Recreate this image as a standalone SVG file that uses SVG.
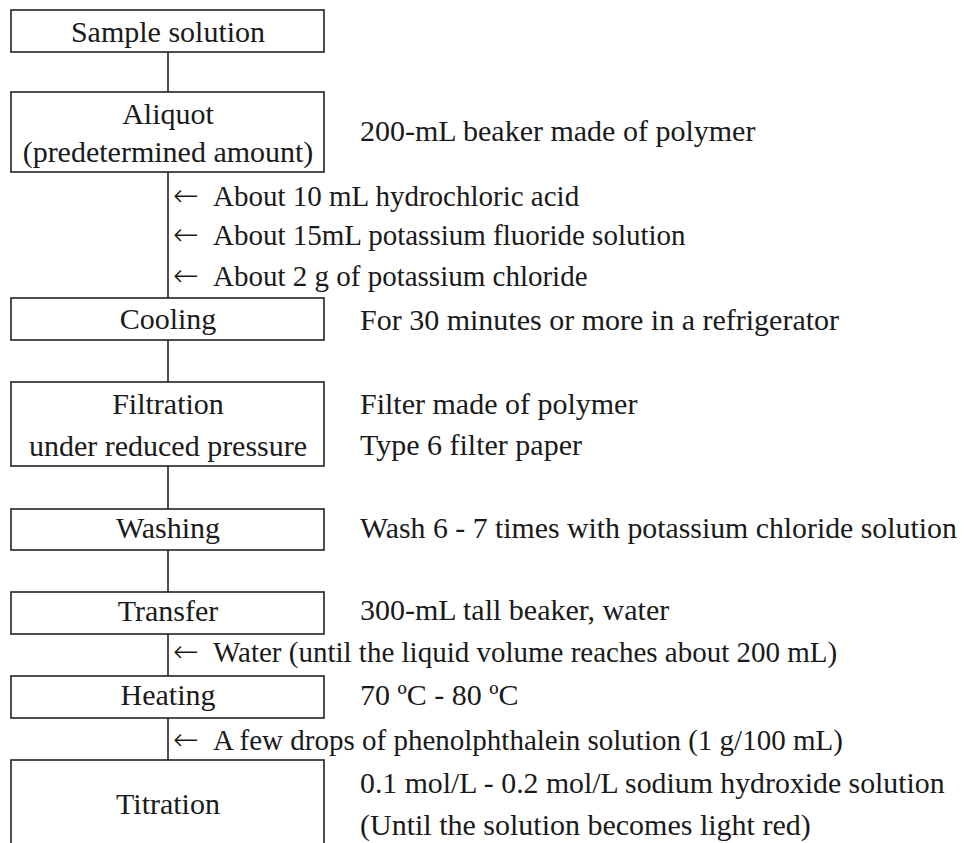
<svg xmlns="http://www.w3.org/2000/svg" width="964" height="843" viewBox="0 0 964 843">
<style>
rect.box{fill:#fff;stroke:#222;stroke-width:1.6}
line.con{stroke:#222;stroke-width:1.6}
.c{text-anchor:middle}
.ar{font-family:'DejaVu Sans',sans-serif;font-size:31px;font-weight:300}
.side{font-size:29px}
</style>
<rect width="964" height="843" fill="#fff"/>
<g id="connectors">
<line class="con" x1="168" y1="52" x2="168" y2="92"/>
<line class="con" x1="168" y1="172" x2="168" y2="298"/>
<line class="con" x1="168" y1="340" x2="168" y2="382"/>
<line class="con" x1="168" y1="466" x2="168" y2="509"/>
<line class="con" x1="168" y1="550" x2="168" y2="592"/>
<line class="con" x1="168" y1="634" x2="168" y2="676"/>
<line class="con" x1="168" y1="718" x2="168" y2="760"/>
</g>
<g font-family="Liberation Serif" font-size="30" fill="#1a1a1a">
<g id="n-sample"><rect class="box" x="11" y="10" width="313" height="42"/><text class="c" x="168" y="42">Sample solution</text></g>
<g id="n-aliquot"><rect class="box" x="11" y="92" width="313" height="80"/><text class="c" x="168" y="124">Aliquot</text><text class="c" x="168" y="162">(predetermined amount)</text></g>
<g id="n-cooling"><rect class="box" x="11" y="298" width="313" height="42"/><text class="c" x="168" y="329">Cooling</text></g>
<g id="n-filtration"><rect class="box" x="11" y="382" width="313" height="84"/><text class="c" x="168" y="414">Filtration</text><text class="c" x="168" y="456">under reduced pressure</text></g>
<g id="n-washing"><rect class="box" x="11" y="509" width="313" height="41"/><text class="c" x="168" y="538">Washing</text></g>
<g id="n-transfer"><rect class="box" x="11" y="592" width="313" height="42"/><text class="c" x="168" y="621">Transfer</text></g>
<g id="n-heating"><rect class="box" x="11" y="676" width="313" height="42"/><text class="c" x="168" y="705">Heating</text></g>
<g id="n-titration"><rect class="box" x="11" y="760" width="313" height="95"/><text class="c" x="168" y="814">Titration</text></g>
<g id="notes">
<text x="360" y="141">200-mL beaker made of polymer</text>
<text class="side" x="173" y="206"><tspan class="ar">←</tspan><tspan x="213">About 10 mL hydrochloric acid</tspan></text>
<text class="side" x="173" y="245"><tspan class="ar">←</tspan><tspan x="213">About 15mL potassium fluoride solution</tspan></text>
<text class="side" x="173" y="286"><tspan class="ar">←</tspan><tspan x="213">About 2 g of potassium chloride</tspan></text>
<text x="360" y="330">For 30 minutes or more in a refrigerator</text>
<text x="360" y="414">Filter made of polymer</text>
<text x="360" y="455">Type 6 filter paper</text>
<text x="360" y="538" font-size="29.8">Wash 6 - 7 times with potassium chloride solution</text>
<text x="360" y="620">300-mL tall beaker, water</text>
<text class="side" x="173" y="662"><tspan class="ar">←</tspan><tspan x="213">Water (until the liquid volume reaches about 200 mL)</tspan></text>
<text x="360" y="705">70 ºC - 80 ºC</text>
<text class="side" x="173" y="750"><tspan class="ar">←</tspan><tspan x="213">A few drops of phenolphthalein solution (1 g/100 mL)</tspan></text>
<text x="360" y="793" font-size="29.8">0.1 mol/L - 0.2 mol/L sodium hydroxide solution</text>
<text x="360" y="835">(Until the solution becomes light red)</text>
</g>
</g>
</svg>
